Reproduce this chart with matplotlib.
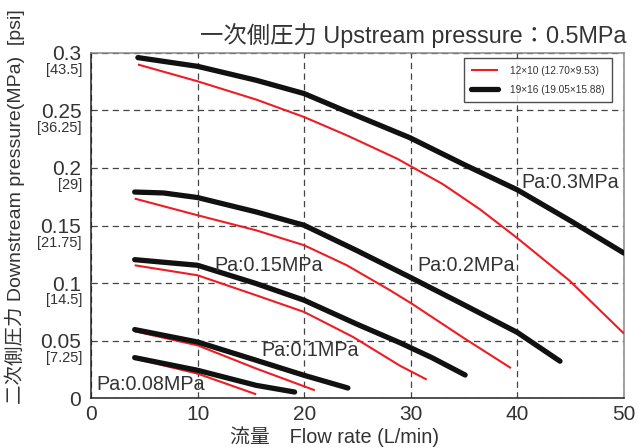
import numpy as np
import matplotlib
matplotlib.use("Agg")
import matplotlib.pyplot as plt

plt.rcParams['font.family'] = ['Liberation Sans', 'Noto Sans CJK JP', 'DejaVu Sans']

# curves: flow rate (L/min) -> downstream pressure (MPa)
# red = 12x10 tube, black = 19x16 tube
x_03_black = [4.4, 10, 15.5, 20, 23.7, 29.9, 35, 40, 45, 50]
y_03_black = [0.296, 0.2884, 0.2763, 0.2647, 0.2502, 0.2264, 0.203, 0.181, 0.154, 0.126]
x_03_red = [4.4, 10, 15.5, 20, 24, 28.7, 30.1, 33, 36.5, 40, 44.9, 50]
y_03_red = [0.290, 0.2754, 0.2595, 0.2443, 0.2284, 0.2082, 0.201, 0.186, 0.164, 0.139, 0.102, 0.056]

x_02_black = [4.1, 6.8, 10, 15.5, 20, 24.9, 29.9, 35, 40, 44]
y_02_black = [0.1791, 0.1783, 0.1743, 0.1618, 0.1502, 0.1284, 0.1052, 0.081, 0.057, 0.032]
x_02_red = [4.1, 10, 15.5, 20, 24, 28.05, 30.1, 35, 39.4]
y_02_red = [0.1734, 0.1589, 0.1458, 0.1328, 0.1154, 0.0937, 0.082, 0.052, 0.026]

x_015_black = [4.1, 10, 15.5, 20, 25, 29, 32, 35.1]
y_015_black = [0.1203, 0.1154, 0.0995, 0.085, 0.064, 0.048, 0.035, 0.020]
x_015_red = [4.1, 10, 15.5, 20, 24.6, 29, 31.5]
y_015_red = [0.1154, 0.1067, 0.0893, 0.0748, 0.053, 0.028, 0.016]

x_01_black = [4.1, 10, 15.5, 20, 24.1]
y_01_black = [0.0595, 0.0487, 0.0328, 0.0197, 0.0087]
x_01_red = [4.1, 10, 15.5, 21]
y_01_red = [0.058, 0.0458, 0.0256, 0.0067]

x_008_black = [4.1, 10, 15.5, 19.1]
y_008_black = [0.0351, 0.0241, 0.011, 0.0052]
x_008_red = [4.1, 10, 15.5]
y_008_red = [0.0343, 0.0212, 0.0032]

mpa_ticks = [0, 0.05, 0.1, 0.15, 0.2, 0.25, 0.3]
mpa_labels = ['0', '0.05', '0.1', '0.15', '0.2', '0.25', '0.3']
psi_labels = ['', '[7.25]', '[14.5]', '[21.75]', '[29]', '[36.25]', '[43.5]']
flow_ticks = [0, 10, 20, 30, 40, 50]

curve_names = ['Pa:0.3MPa', 'Pa:0.2MPa', 'Pa:0.15MPa', 'Pa:0.1MPa', 'Pa:0.08MPa']
name_x = [40.4, 30.6, 11.6, 16.0, 0.5]
name_y = [0.187, 0.115, 0.115, 0.041, 0.012]

legend_names = ['12×10 (12.70×9.53)', '19×16 (19.05×15.88)']

txt = '#333333'

fig = plt.figure(figsize=(6.38, 4.48), dpi=100)
ax = fig.add_axes([0.1426, 0.1116, 0.8354, 0.7701])

reds = [(x_03_red, y_03_red), (x_02_red, y_02_red), (x_015_red, y_015_red),
        (x_01_red, y_01_red), (x_008_red, y_008_red)]
blacks = [(x_03_black, y_03_black), (x_02_black, y_02_black), (x_015_black, y_015_black),
          (x_01_black, y_01_black), (x_008_black, y_008_black)]

for i, (xs, ys) in enumerate(reds):
    ax.plot(xs, ys, color='#ee1c25', lw=1.5, solid_capstyle='butt', solid_joinstyle='round',
            zorder=3, label=legend_names[0] if i == 0 else None)
for i, (xs, ys) in enumerate(blacks):
    ax.plot(xs, ys, color='#111111', lw=3.8, solid_capstyle='round', solid_joinstyle='round',
            zorder=4, label=legend_names[1] if i == 0 else None)

for name, nx, ny in zip(curve_names, name_x, name_y):
    ax.text(nx, ny, name, fontsize=14.2, color=txt, ha='left', va='center', zorder=5)

ax.set_xlim(0, 50)
ax.set_ylim(0, 0.3)
ax.set_xticks(flow_ticks)
ax.set_xticklabels([str(t) for t in flow_ticks])
ax.set_yticks(mpa_ticks)
ax.set_yticklabels(mpa_labels)
ax.tick_params(axis='x', length=0, pad=5, labelsize=15, labelcolor=txt)
ax.tick_params(axis='y', length=0, pad=7, labelsize=15, labelcolor=txt)

for v, p in zip(mpa_ticks, psi_labels):
    if p:
        ax.annotate(p, xy=(0, v), xycoords=('axes fraction', 'data'), xytext=(-6.5, -12.5),
                    textcoords='offset points', ha='right', va='center', fontsize=10.5, color=txt)

ax.grid(True, linestyle=(0, (5, 3.5)), color='#444444', lw=0.9)
ax.set_axisbelow(True)

for s in ['left', 'bottom']:
    ax.spines[s].set_color('#222222')
    ax.spines[s].set_linewidth(1.1)
for s in ['top', 'right']:
    ax.spines[s].set_color('#888888')
    ax.spines[s].set_linewidth(1.1)

leg = ax.legend(loc='upper right', bbox_to_anchor=(0.9775, 0.9855), borderaxespad=0,
                fontsize=7.3, frameon=True, fancybox=False, edgecolor='#222222',
                handlelength=2.6, borderpad=0.75, labelspacing=0.9, handletextpad=1.2)
leg.get_frame().set_linewidth(1.0)
for t in leg.get_texts():
    t.set_color(txt)

fig.text(627 / 638, 1 - 35 / 448, '一次側圧力 Upstream pressure：0.5MPa', ha='right', va='center',
         fontsize=16.8, color=txt)
fig.text(335 / 638, 1 - 437 / 448, '流量\u3000Flow rate (L/min)', ha='center', va='center',
         fontsize=14.3, color=txt)
fig.text(15 / 638, 1 - 207 / 448, '二次側圧力 Downstream pressure(MPa)  [psi]', ha='center',
         va='center', rotation=90, fontsize=14, color=txt)

fig.savefig('out.png', dpi=100)
